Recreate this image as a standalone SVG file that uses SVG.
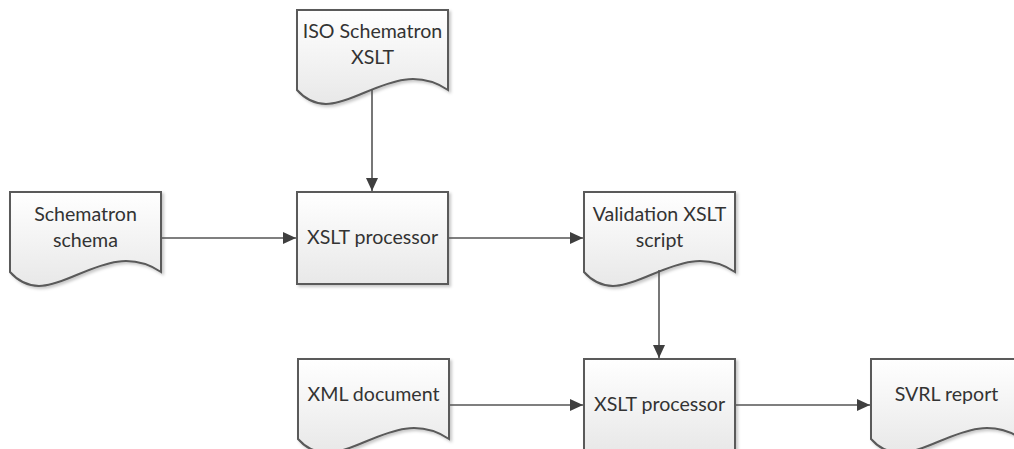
<svg xmlns="http://www.w3.org/2000/svg" width="1014" height="449" viewBox="0 0 1014 449">
<defs>
<linearGradient id="g" x1="0" y1="0" x2="0" y2="1">
<stop offset="0" stop-color="#ffffff"/>
<stop offset="1" stop-color="#e8e8e8"/>
</linearGradient>
<filter id="sh" x="-10%" y="-10%" width="130%" height="130%">
<feDropShadow dx="2" dy="2" stdDeviation="1.5" flood-color="#000" flood-opacity="0.22"/>
</filter>
<marker id="arr" markerWidth="13" markerHeight="12" refX="13" refY="6" orient="auto" markerUnits="userSpaceOnUse">
<path d="M0,0 L13,6 L0,12 Z" fill="#3f3f3f"/>
</marker>
</defs>
<style>
.shape{fill:url(#g);stroke:#5a5a5a;stroke-width:2;filter:url(#sh)}
.t{font-family:Lato,"Liberation Sans",sans-serif;font-size:19.6px;fill:#333;text-anchor:middle}
.c{fill:none;stroke:#555;stroke-width:1.6;marker-end:url(#arr)}
</style>
<g id="iso">
<path class="shape" d="M297,10 H448 V90 C388,50 338,136 297,90 Z"/>
<text class="t" x="372.5" y="38">ISO Schematron</text>
<text class="t" x="372.5" y="64">XSLT</text>
</g>
<g id="schema">
<path class="shape" d="M10,192 H161 V272 C101,232 51,318 10,272 Z"/>
<text class="t" x="85.5" y="221">Schematron</text>
<text class="t" x="85.5" y="247">schema</text>
</g>
<g id="proc1">
<rect class="shape" x="297" y="192" width="151" height="92"/>
<text class="t" x="372.5" y="244">XSLT processor</text>
</g>
<g id="valid">
<path class="shape" d="M584,192 H735 V272 C675,232 625,318 584,272 Z"/>
<text class="t" x="659.5" y="221">Validation XSLT</text>
<text class="t" x="659.5" y="247">script</text>
</g>
<g id="xml">
<path class="shape" d="M298,359 H449 V439 C389,399 339,485 298,439 Z"/>
<text class="t" x="373.5" y="401">XML document</text>
</g>
<g id="proc2">
<rect class="shape" x="584" y="359" width="151" height="92"/>
<text class="t" x="659.5" y="411">XSLT processor</text>
</g>
<g id="svrl">
<path class="shape" d="M871,359 H1022 V439 C962,399 912,485 871,439 Z"/>
<text class="t" x="946.5" y="401">SVRL report</text>
</g>
<g id="connectors">
<path class="c" d="M372,89 V191"/>
<path class="c" d="M162,238 H296"/>
<path class="c" d="M449,238 H583"/>
<path class="c" d="M659,270 V358"/>
<path class="c" d="M450,405 H583"/>
<path class="c" d="M736,405 H870"/>
</g>
</svg>
